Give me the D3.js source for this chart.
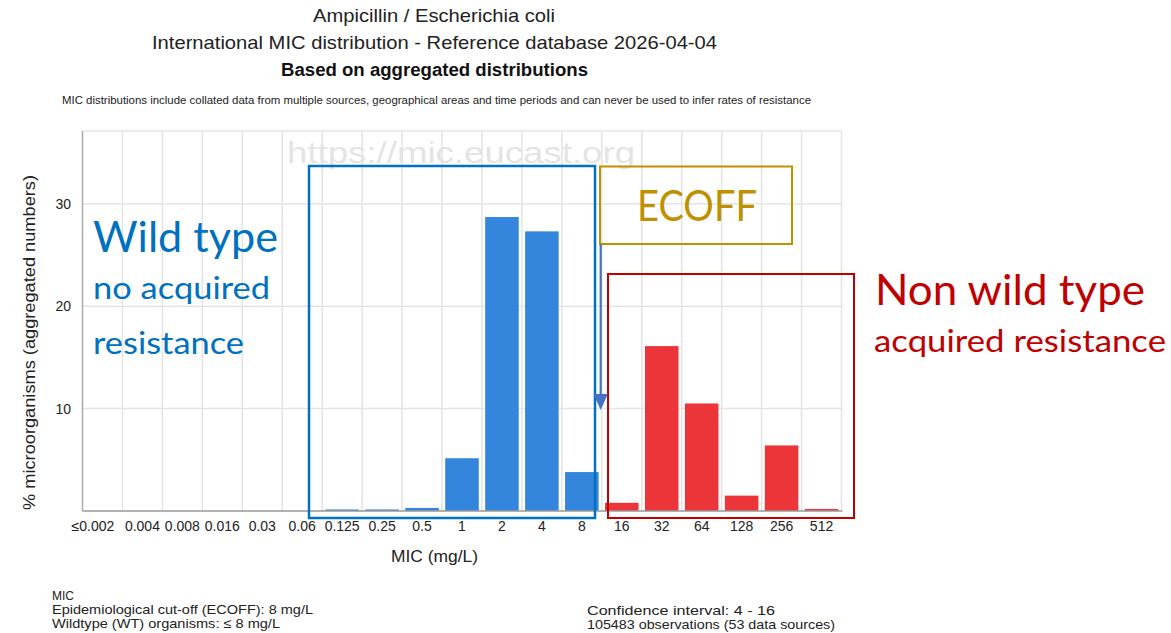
<!DOCTYPE html>
<html><head><meta charset="utf-8">
<script src="https://cdn.jsdelivr.net/npm/d3@7"></script>
<style>
html,body{margin:0;padding:0;background:#fff;}
svg{display:block;}
</style></head>
<body>
<svg id="c" width="1171" height="633"></svg>
<script>
// ---- data ----
const categories = ["≤0.002","0.004","0.008","0.016","0.03","0.06","0.125","0.25","0.5","1","2","4","8","16","32","64","128","256","512"];
const percentages = [0,0,0,0,0,0,0.15,0.15,0.3,5.15,28.7,27.3,3.8,0.8,16.1,10.5,1.5,6.4,0.2];
const yTicks = [10,20,30];
const ecoffCategory = "8";
const titleLines = ["Ampicillin / Escherichia coli","International MIC distribution - Reference database 2026-04-04","Based on aggregated distributions"];
const noteText = "MIC distributions include collated data from multiple sources, geographical areas and time periods and can never be used to infer rates of resistance";
const footLeft = ["MIC","Epidemiological cut-off (ECOFF): 8 mg/L","Wildtype (WT) organisms: ≤ 8 mg/L"];
const footRight = ["Confidence interval: 4 - 16","105483 observations (53 data sources)"];

const svg = d3.select("#c");
const font = "'Liberation Sans', Arial, sans-serif";
const ink = "#222";

const x = d3.scaleBand().domain(categories).range([82.5, 841.5]).padding(0);
const y = d3.scaleLinear().domain([0, 37.1]).range([511, 131]);
const ecoffIdx = categories.indexOf(ecoffCategory);

function txt(xp, yp, s, size, opts={}) {
  const t = svg.append("text").attr("x", xp).attr("y", yp)
    .attr("font-family", opts.family || font).attr("font-size", size)
    .attr("fill", opts.fill || ink).text(s);
  if (opts.anchor) t.attr("text-anchor", opts.anchor);
  if (opts.weight) t.attr("font-weight", opts.weight);
  if (opts.len) t.attr("textLength", opts.len).attr("lengthAdjust","spacingAndGlyphs");
  return t;
}

// titles
txt(434, 22, titleLines[0], 18.5, {anchor:"middle", len:242});
txt(434.5, 49, titleLines[1], 18.5, {anchor:"middle", len:565});
txt(434.5, 76, titleLines[2], 17.5, {anchor:"middle", weight:"bold", len:307, fill:"#111"});
txt(436.5, 104, noteText, 10.5, {anchor:"middle", len:749});

// grid
const g = svg.append("g");
const gridC = "#e4e4e4";
g.append("line").attr("x1", x.range()[0]).attr("x2", x.range()[1]).attr("y1", y(37.1)).attr("y2", y(37.1))
  .attr("stroke",gridC).attr("stroke-width",1.5);
g.selectAll(".hg").data(yTicks).enter().append("line")
  .attr("x1", x.range()[0]).attr("x2", x.range()[1])
  .attr("y1", d=>y(d)).attr("y2", d=>y(d)).attr("stroke",gridC).attr("stroke-width",1.5);
g.selectAll(".vg").data(categories.slice(1)).enter().append("line")
  .attr("x1", d=>x(d)).attr("x2", d=>x(d)).attr("y1", y(37.1)).attr("y2", y(0))
  .attr("stroke",gridC).attr("stroke-width",1.5);
g.append("line").attr("x1", x.range()[1]).attr("x2", x.range()[1]).attr("y1", y(37.1)).attr("y2", y(0))
  .attr("stroke",gridC).attr("stroke-width",1.5);

// watermark
txt(287, 163, "https://mic.eucast.org", 30, {fill:"#e4e4e4", len:348});

// bars
const bw = x.bandwidth()*0.84;
svg.append("g").selectAll("rect").data(categories.map((c,i)=>({c, v: percentages[i], i}))).enter()
  .append("rect")
  .attr("x", d=> x(d.c) + (x.bandwidth()-bw)/2)
  .attr("width", bw)
  .attr("y", d=> y(d.v))
  .attr("height", d=> y(0)-y(d.v))
  .attr("fill", d=> d.i <= ecoffIdx ? "#3386db" : "#ec3539");

// axes lines
svg.append("line").attr("x1", x.range()[0]).attr("x2", x.range()[0]).attr("y1", y(37.1)).attr("y2", y(0))
  .attr("stroke","#aaa").attr("stroke-width",1.5);
svg.append("line").attr("x1", x.range()[0]).attr("x2", x.range()[1]+1).attr("y1", y(0)).attr("y2", y(0))
  .attr("stroke","#999").attr("stroke-width",1.5);

// y tick labels
svg.append("g").selectAll("text").data(yTicks).enter().append("text")
  .attr("x", 71).attr("y", d=>y(d)+5).attr("text-anchor","end")
  .attr("font-family", font).attr("font-size", 14).attr("fill", ink).text(d=>d);
// x tick labels
svg.append("g").selectAll("text").data(categories).enter().append("text")
  .attr("x", (d,i)=> x(d)+x.bandwidth()/2 - (i===0?9.5:0))
  .attr("y", 531).attr("text-anchor","middle")
  .attr("font-family", font).attr("font-size", 14).attr("fill", ink).text(d=>d);

// axis titles
txt(434.5, 562, "MIC (mg/L)", 16, {anchor:"middle", len:87});
svg.append("text").attr("transform","translate(35,342.5) rotate(-90)").attr("text-anchor","middle")
  .attr("font-family", font).attr("font-size", 16).attr("fill", ink)
  .attr("textLength",335).attr("lengthAdjust","spacingAndGlyphs")
  .text("% microorganisms (aggregated numbers)");

// footer
const footLeftLen = [22, 261, 228];
footLeft.forEach((t,i)=> txt(52, 600+i*14, t, 13.5, {len: footLeftLen[i]}));
const footRightLen = [188, 248];
footRight.forEach((t,i)=> txt(587, 615+i*13.5, t, 13.5, {len: footRightLen[i]}));

// annotations
const cal = "Lato, 'Open Sans', sans-serif";
svg.append("rect").attr("x", 309).attr("y", 166).attr("width", 286).attr("height", 352)
  .attr("fill","none").attr("stroke","#0070c0").attr("stroke-width",2.5);
svg.append("rect").attr("x", 600).attr("y", 166.5).attr("width", 192).attr("height", 77.5)
  .attr("fill","none").attr("stroke","#bf9000").attr("stroke-width",2);
svg.append("rect").attr("x", 608).attr("y", 274).attr("width", 246).attr("height", 244)
  .attr("fill","none").attr("stroke","#c00000").attr("stroke-width",2);
// arrow
svg.append("line").attr("x1", 600.7).attr("x2", 600.7).attr("y1", 244).attr("y2", 396)
  .attr("stroke","#4472c4").attr("stroke-width",2.2);
svg.append("path").attr("d","M593.5,394 L607.8,394 L600.7,410 Z").attr("fill","#4472c4");

txt(93, 252, "Wild type", 42, {family:cal, fill:"#0070c0", len:185});
txt(93, 299, "no acquired", 31, {family:cal, fill:"#0070c0", len:177});
txt(93, 354, "resistance", 31, {family:cal, fill:"#0070c0", len:151});
txt(637, 221, "ECOFF", 42, {family:cal, fill:"#bf9000", len:120});
txt(875, 305, "Non wild type", 42, {family:cal, fill:"#c00000", len:270});
txt(874, 352, "acquired resistance", 31, {family:cal, fill:"#c00000", len:292});
</script>
</body></html>
